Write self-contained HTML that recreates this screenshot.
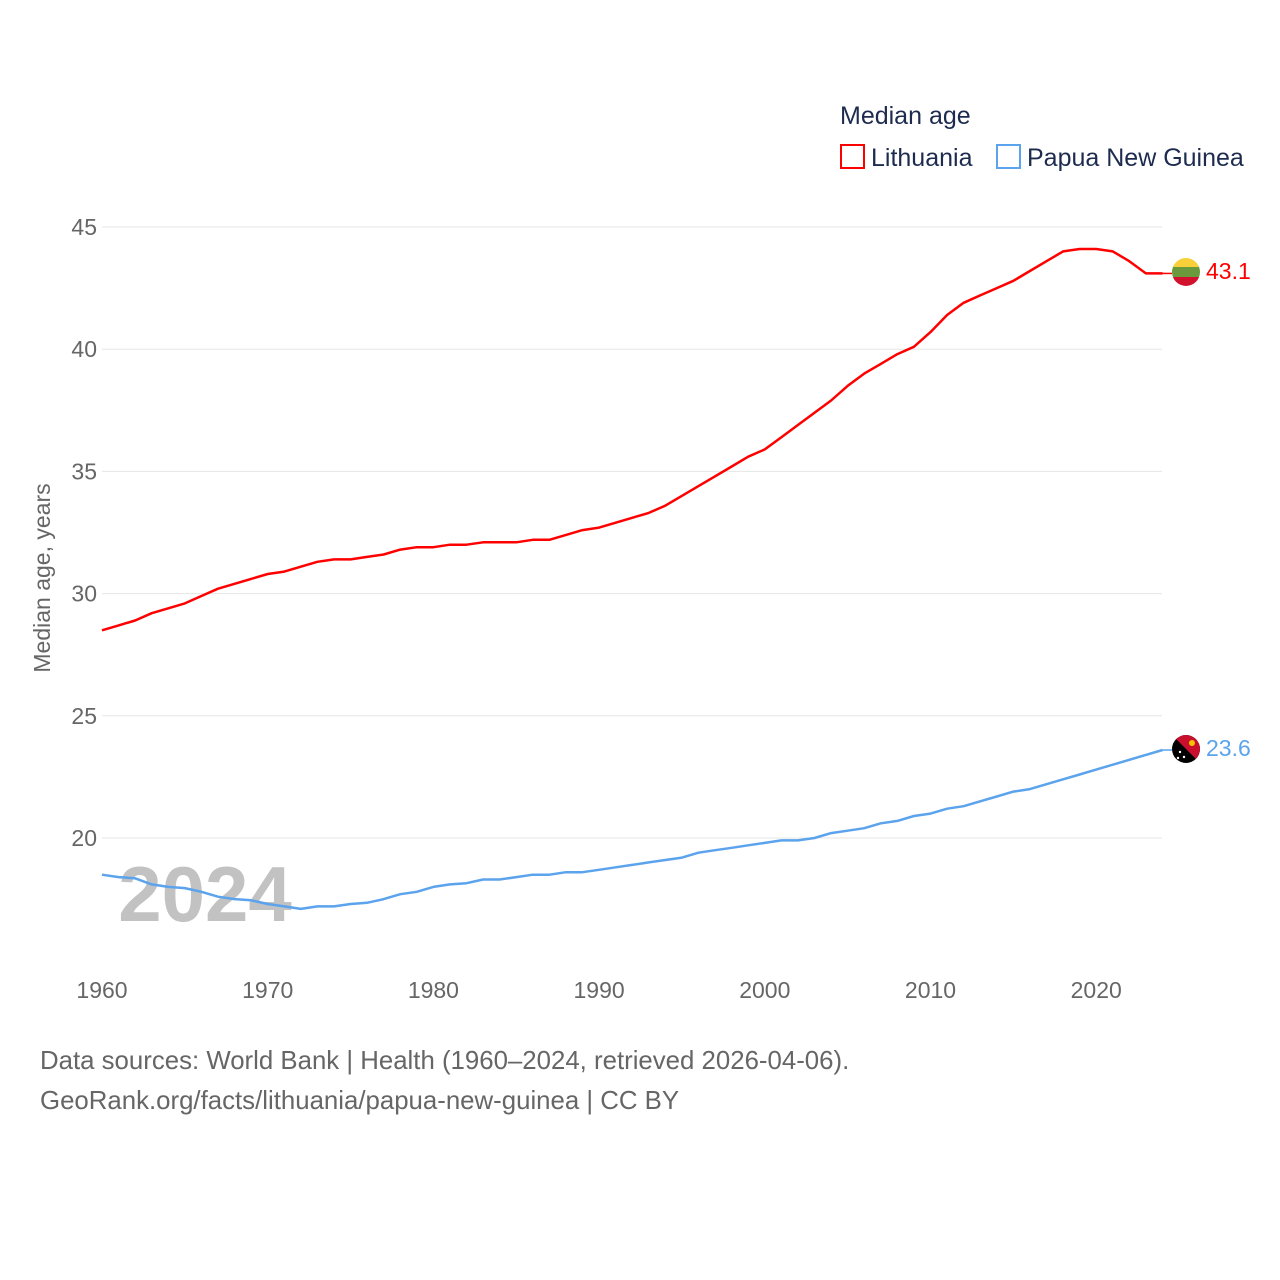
<!DOCTYPE html>
<html><head><meta charset="utf-8"><style>
body{margin:0;background:#fff;font-family:"Liberation Sans",sans-serif}
svg{display:block}
</style></head><body>
<svg id="chart" width="1280" height="1280">
<g id="grid"></g><g id="ticks"></g>
<text x="205" y="921" font-size="78" font-weight="bold" fill="#bbb" fill-opacity="0.9" text-anchor="middle">2024</text>
<g id="lines"></g>
<text transform="translate(50,578) rotate(-90)" text-anchor="middle" font-size="23" fill="#666">Median age, years</text>
<text x="840" y="124" font-size="25" fill="#1d2b4f">Median age</text>
<g><rect x="841" y="145" width="23" height="23" fill="none" stroke="#ff0000" stroke-width="2"/><text x="871" y="166" font-size="25" fill="#1d2b4f">Lithuania</text></g>
<g><rect x="997" y="145" width="23" height="23" fill="none" stroke="#5ba3ec" stroke-width="2"/><text x="1027" y="166" font-size="25" fill="#1d2b4f">Papua New Guinea</text></g>
<g>
<clipPath id="c1"><circle cx="1186" cy="272" r="14"/></clipPath>
<g clip-path="url(#c1)"><rect x="1170" y="256" width="32" height="11" fill="#f9d03a"/><rect x="1170" y="267" width="32" height="10" fill="#6a9a3b"/><rect x="1170" y="277" width="32" height="11" fill="#d2112d"/></g></g>
<g>
<clipPath id="c2"><circle cx="1186" cy="749" r="14"/></clipPath>
<g clip-path="url(#c2)"><rect x="1170" y="733" width="32" height="32" fill="#000"/><polygon points="1170,733 1202,733 1202,765" fill="#c8102e"/><circle cx="1192" cy="743" r="3" fill="#f5c400"/><circle cx="1180" cy="752" r="1.2" fill="#fff"/><circle cx="1184" cy="757" r="1.2" fill="#fff"/><circle cx="1178" cy="758" r="1.2" fill="#fff"/></g></g>
<text x="1206" y="279" font-size="23" fill="#ff0000">43.1</text>
<text x="1206" y="756" font-size="23" fill="#5ba3ec">23.6</text>
<text x="40" y="1069" font-size="25.8" fill="#666">Data sources: World Bank | Health (1960–2024, retrieved 2026-04-06).</text>
<text x="40" y="1109" font-size="25.8" fill="#666">GeoRank.org/facts/lithuania/papua-new-guinea | CC BY</text>
</svg>
<script>
const years=[];for(let y=1960;y<=2024;y++)years.push(y);
const lithuania=[28.5,28.7,28.9,29.2,29.4,29.6,29.9,30.2,30.4,30.6,30.8,30.9,31.1,31.3,31.4,31.4,31.5,31.6,31.8,31.9,31.9,32.0,32.0,32.1,32.1,32.1,32.2,32.2,32.4,32.6,32.7,32.9,33.1,33.3,33.6,34.0,34.4,34.8,35.2,35.6,35.9,36.4,36.9,37.4,37.9,38.5,39.0,39.4,39.8,40.1,40.7,41.4,41.9,42.2,42.5,42.8,43.2,43.6,44.0,44.1,44.1,44.0,43.6,43.1,43.1];
const png=[18.5,18.4,18.35,18.1,18.0,17.95,17.8,17.6,17.5,17.45,17.3,17.2,17.1,17.2,17.2,17.3,17.35,17.5,17.7,17.8,18.0,18.1,18.15,18.3,18.3,18.4,18.5,18.5,18.6,18.6,18.7,18.8,18.9,19.0,19.1,19.2,19.4,19.5,19.6,19.7,19.8,19.9,19.9,20.0,20.2,20.3,20.4,20.6,20.7,20.9,21.0,21.2,21.3,21.5,21.7,21.9,22.0,22.2,22.4,22.6,22.8,23.0,23.2,23.4,23.6];
const yTicks=[20,25,30,35,40,45];
const xTicks=[1960,1970,1980,1990,2000,2010,2020];
const NS="http://www.w3.org/2000/svg";
const X=y=>102+(y-1960)*16.57;
const Y=v=>227+(45-v)*24.44;
function mk(t,a,p){const e=document.createElementNS(NS,t);for(const k in a)e.setAttribute(k,a[k]);p.appendChild(e);return e;}
const grid=document.getElementById('grid'),ticks=document.getElementById('ticks'),lines=document.getElementById('lines');
yTicks.forEach(v=>{
const l=mk('line',{x1:102,x2:1162,y1:Y(v),y2:Y(v),stroke:'#e6e6e6','stroke-width':1},grid);


const t=mk('text',{x:97,y:Y(v)+8,'text-anchor':'end','font-size':23,fill:'#666'},ticks);t.textContent=v;


});
xTicks.forEach(v=>{
const t=mk('text',{x:X(v),y:998,'text-anchor':'middle','font-size':23,fill:'#666'},ticks);t.textContent=v;


});
function series(vals,color,name){
const pts=vals.map((v,i)=>X(years[i]).toFixed(1)+','+Y(v).toFixed(1)).join(' ');
const p=mk('polyline',{points:pts,fill:'none',stroke:color,'stroke-width':2.5,'stroke-linejoin':'round'},lines);


const last=vals[vals.length-1];
const c=mk('line',{x1:X(2024),x2:1172,y1:Y(last),y2:Y(last),stroke:color,'stroke-width':1.5},lines);


}
series(lithuania,'#ff0000','lithuania');
series(png,'#5ba3ec','papua-new-guinea');
</script>
</body></html>
